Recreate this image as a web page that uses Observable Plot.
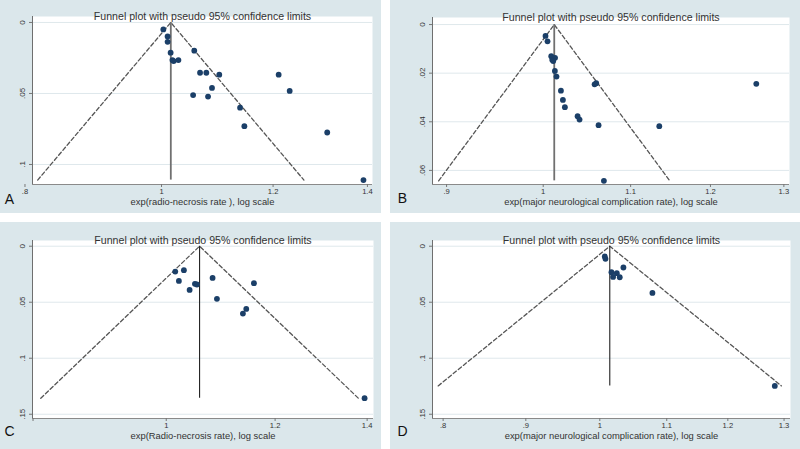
<!DOCTYPE html>
<html>
<head>
<meta charset="utf-8">
<script src="https://cdn.jsdelivr.net/npm/d3@7"></script>
<script src="https://cdn.jsdelivr.net/npm/@observablehq/plot@0.6"></script>
<style>
  html, body { margin: 0; padding: 0; background: #ffffff; }
  #fig { position: relative; width: 800px; height: 449px; background: #ffffff; overflow: hidden; }
  .panel { position: absolute; background: #dbe7eb; }
  .panel svg { display: block; }
</style>
</head>
<body>
<div id="fig"></div>
<script>
// ---------- data ----------
const titleText = "Funnel plot with pseudo 95% confidence limits";

// Panel A
const aEffect = [1.003, 1.010, 1.010, 1.015, 1.018, 1.020, 1.028, 1.055, 1.065, 1.076, 1.099, 1.086, 1.053, 1.079, 1.137, 1.145, 1.211, 1.233, 1.311, 1.391];
const aSE     = [0.0049, 0.0098, 0.0136, 0.0213, 0.0265, 0.0272, 0.0265, 0.0199, 0.0354, 0.0354, 0.0368, 0.0461, 0.0511, 0.0522, 0.0600, 0.0730, 0.0368, 0.0482, 0.0775, 0.1110];
const aTheta = 1.0153;
const aXTicks = [0.8, 1, 1.2, 1.4];
const aYTicks = [0, 0.05, 0.1];
const aXLabel = "exp(radio-necrosis rate ), log scale";

// Panel B
const bEffect = [1.0025, 1.0047, 1.0088, 1.0099, 1.0130, 1.0110, 1.0128, 1.0146, 1.0195, 1.0217, 1.0239, 1.0382, 1.0404, 1.0576, 1.0595, 1.0622, 1.1349, 1.2615, 1.0684];
const bSE     = [0.0047, 0.0069, 0.0130, 0.0145, 0.0137, 0.0150, 0.0191, 0.0214, 0.0272, 0.0310, 0.0340, 0.0377, 0.0391, 0.0246, 0.0241, 0.0414, 0.0418, 0.0244, 0.0643];
const bTheta = 1.0121;
const bXTicks = [0.9, 1, 1.1, 1.2, 1.3];
const bYTicks = [0, 0.02, 0.04, 0.06];
const bXLabel = "exp(major neurological complication rate), log scale";

// Panel C
const cEffect = [1.0152, 1.030, 1.0214, 1.0399, 1.0492, 1.0527, 1.0807, 1.0886, 1.137, 1.1434, 1.1582, 1.394];
const cSE     = [0.0226, 0.0214, 0.0310, 0.0390, 0.0336, 0.0342, 0.0283, 0.0470, 0.0601, 0.0560, 0.0330, 0.1357];
const cTheta = 1.0574;
const cXTicks = [0.8, 1, 1.2, 1.4];
const cYTicks = [0, 0.05, 0.1, 0.15];
const cXLabel = "exp(Radio-necrosis rate), log scale";

// Panel D
const dEffect = [1.0071, 1.0081, 1.0167, 1.0191, 1.0245, 1.0288, 1.0342, 1.0778, 1.283];
const dSE     = [0.0092, 0.0113, 0.0232, 0.0274, 0.0241, 0.0277, 0.0190, 0.0417, 0.1247];
const dTheta = 1.0143;
const dXTicks = [0.8, 0.9, 1, 1.1, 1.2, 1.3];
const dYTicks = [0, 0.05, 0.1, 0.15];
const dXLabel = "exp(major neurological complication rate), log scale";

// ---------- drawing ----------
const font = "'Liberation Sans', Arial, Helvetica, sans-serif";
const fmt = d => {
  if (d === 0) return "0";
  return String(+d.toFixed(3)).replace(/^0\./, ".");
};

function panel(cfg) {
  const pts = cfg.effect.map((x, i) => ({x, se: cfg.se[i]}));
  const seMax = d3.max(cfg.se);
  const lt = Math.log(cfg.theta);
  const funnel = [
    {x: Math.exp(lt - 1.96 * seMax), se: seMax},
    {x: cfg.theta, se: 0},
    {x: Math.exp(lt + 1.96 * seMax), se: seMax}
  ];
  const vline = [{x: cfg.theta, y1: 0, y2: seMax}];
  return Plot.plot({
    width: cfg.w, height: cfg.h,
    marginLeft: cfg.ml, marginRight: cfg.mr, marginTop: cfg.mt, marginBottom: cfg.mb,
    style: {background: "transparent", fontFamily: font, color: "#333", overflow: "visible"},
    x: {type: "log", domain: cfg.xDomain, label: null},
    y: {domain: cfg.yDomain, reverse: true, label: null},
    marks: [
      Plot.frame({fill: "#ffffff", stroke: null}),
      Plot.gridY({ticks: cfg.yTicks, stroke: "#dfe8ec", strokeOpacity: 1, strokeWidth: 1}),
      Plot.ruleX([cfg.xDomain[0]], {stroke: "#6f6f6f", strokeWidth: 1}),
      Plot.ruleY([cfg.yDomain[1]], {stroke: "#8a8a8a", strokeWidth: 1}),
      Plot.axisX({ticks: cfg.xTicks, tickFormat: fmt, tickSize: 3, tickPadding: 1, fontSize: 7.6, stroke: "#777", fill: "#333", label: null}),
      Plot.axisY({ticks: cfg.yTicks, tickFormat: fmt, tickSize: 3, tickRotate: -90, tickPadding: 5, fontSize: 8, stroke: "#777", fill: "#333", label: null}),
      Plot.line(funnel, {x: "x", y: "se", stroke: "#555", strokeWidth: 1.3, strokeDasharray: "4,2.5"}),
      Plot.ruleX(vline, {x: "x", y1: "y1", y2: "y2", stroke: cfg.vStroke, strokeWidth: cfg.vWidth}),
      Plot.dot(pts, {x: "x", y: "se", r: 2.9, fill: "#1b3f68", stroke: null}),
      Plot.text([titleText], {frameAnchor: "top", dy: -4, fontSize: 10.6, fill: "#333"}),
      Plot.text([cfg.xLabel], {frameAnchor: "bottom", dy: 20.5, fontSize: 9.4, fill: "#333"}),
      Plot.text([cfg.letter], {frameAnchor: "bottom-left", dx: cfg.ldx, dy: cfg.ldy, fontSize: 14, fill: "#111", textAnchor: "middle"})
    ]
  });
}

const configs = [
  {letter: "A", left: 0, top: 0, w: 381, h: 213, ml: 32, mr: 9, mt: 16, mb: 29,
   xDomain: [0.8099, 1.4117], yDomain: [-0.0042, 0.1141],
   xTicks: aXTicks, yTicks: aYTicks, effect: aEffect, se: aSE, theta: aTheta, xLabel: aXLabel,
   vStroke: "#707070", vWidth: 1.8, ldx: -23, ldy: 19},
  {letter: "B", left: 390, top: 0, w: 410, h: 213, ml: 42, mr: 11, mt: 17, mb: 29,
   xDomain: [0.8863, 1.308], yDomain: [-0.0029, 0.0658],
   xTicks: bXTicks, yTicks: bYTicks, effect: bEffect, se: bSE, theta: bTheta, xLabel: bXLabel,
   vStroke: "#707070", vWidth: 1.8, ldx: -30, ldy: 18},
  {letter: "C", left: 0, top: 222, w: 381, h: 227, ml: 32, mr: 8, mt: 18, mb: 31,
   xDomain: [0.7993, 1.415], yDomain: [-0.0051, 0.1538],
   xTicks: cXTicks, yTicks: cYTicks, effect: cEffect, se: cSE, theta: cTheta, xLabel: cXLabel,
   vStroke: "#222", vWidth: 1.1, ldx: -23, ldy: 17},
  {letter: "D", left: 390, top: 222, w: 410, h: 227, ml: 42, mr: 10, mt: 18, mb: 31,
   xDomain: [0.788, 1.312], yDomain: [-0.0051, 0.1538],
   xTicks: dXTicks, yTicks: dYTicks, effect: dEffect, se: dSE, theta: dTheta, xLabel: dXLabel,
   vStroke: "#222", vWidth: 1.1, ldx: -30, ldy: 17}
];

const fig = document.getElementById("fig");
for (const cfg of configs) {
  const div = document.createElement("div");
  div.className = "panel";
  div.style.left = cfg.left + "px";
  div.style.top = cfg.top + "px";
  div.style.width = cfg.w + "px";
  div.style.height = cfg.h + "px";
  div.appendChild(panel(cfg));
  fig.appendChild(div);
}
</script>
</body>
</html>
